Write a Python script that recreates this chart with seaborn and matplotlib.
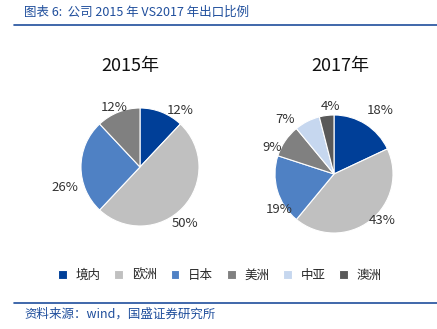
import matplotlib
matplotlib.use("Agg")
import matplotlib.pyplot as plt
import seaborn as sns
from matplotlib.lines import Line2D

sns.set_theme(style="white")
plt.rcParams["font.family"] = ["Noto Sans CJK SC", "DejaVu Sans"]

categories = ["境内", "欧洲", "日本", "美洲", "中亚", "澳洲"]
values_2015 = [12, 50, 26, 12]
values_2017 = [18, 43, 19, 9, 7, 4]
colors = ["#003f98", "#c0c0c0", "#4f81c4", "#808080", "#c6d7ef", "#595959"]

W, H = 437, 329
fig = plt.figure(figsize=(W / 100, H / 100), dpi=100)
fig.patch.set_facecolor("white")

R_PX = 59
LIM = 1.5

# small pixel nudges (dx right, dy down) for the percentage labels
nudge_2015 = [(14, 10), (-7, 7), (-3, 21), (1, 7)]
nudge_2017 = [(8, -3), (4, -10), (14, 15), (-2, 14), (-16, 10), (6, 4)]


def pie_axes(cx, cy):
    half = R_PX * LIM
    return fig.add_axes([(cx - half) / W, (H - cy - half) / H, 2 * half / W, 2 * half / H])


def draw_pie(ax, values, title, cx, nudges):
    wedges, texts, autotexts = ax.pie(
        values,
        colors=colors[: len(values)],
        startangle=90,
        counterclock=False,
        autopct="%d%%",
        pctdistance=1.22,
        wedgeprops=dict(edgecolor="white", linewidth=0.8),
        textprops=dict(fontsize=9.5, color="#333333"),
    )
    for t, (dx, dy) in zip(autotexts, nudges):
        x, y = t.get_position()
        t.set_position((x + dx / R_PX, y - dy / R_PX))
    ax.set_xlim(-LIM, LIM)
    ax.set_ylim(-LIM, LIM)
    ax.set_aspect("equal")
    ax.axis("off")
    fig.text(cx / W, 1 - 66 / H, title, ha="center", va="center", fontsize=13, color="#111111")
    return wedges


ax1 = pie_axes(140, 167)
draw_pie(ax1, values_2015, "2015年", 130, nudge_2015)
ax2 = pie_axes(334, 174)
wedges = draw_pie(ax2, values_2017, "2017年", 340, nudge_2017)

# header and footer rules
fig.add_artist(Line2D([14 / W, 1], [1 - 25 / H, 1 - 25 / H], color="#1f4e9c", lw=1.2))
fig.add_artist(Line2D([14 / W, 1], [1 - 303 / H, 1 - 303 / H], color="#1f4e9c", lw=1.2))
fig.text(24 / W, 1 - 12 / H, "图表 6:  公司 2015 年 VS2017 年出口比例", ha="left", va="center",
         fontsize=9, color="#1f4e9c", style="italic")
fig.text(24 / W, 1 - 314 / H, "资料来源：wind，国盛证券研究所", ha="left", va="center",
         fontsize=9, color="#1f4e9c", style="italic")

leg = fig.legend(wedges, categories, loc="center", bbox_to_anchor=(220 / W, 1 - 275 / H),
                 ncol=6, frameon=False, fontsize=9, handlelength=0.7, handleheight=0.7,
                 handletextpad=0.7, columnspacing=1.1)

fig.savefig("out.png", dpi=100)
